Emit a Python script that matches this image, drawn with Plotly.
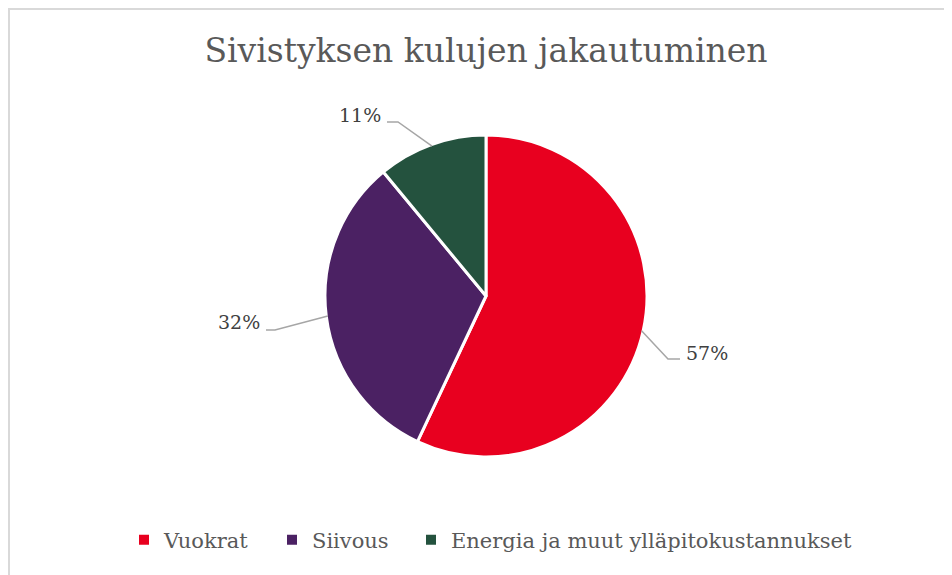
import math
import plotly.graph_objects as go

# ---- data ----
categories = ["Vuokrat", "Siivous", "Energia ja muut ylläpitokustannukset"]
shares = [57, 32, 11]
colors = ["#E8001F", "#4B2163", "#24523E"]
title_text = "Sivistyksen kulujen jakautuminen"

# ---- layout constants (pixels in the screenshot) ----
W, H = 952, 575
OFF = 8  # page body margin
CX, CY, R = 486, 296, 161
label_pos = [(684, 353, "left"), (262, 322, "right"), (383, 115, "right")]
elbow_pos = [(668, 359, 680), (275, 330, 266), (398, 122, 387)]
legend_marker_x = [144, 292, 431]
SERIF = "DejaVu Serif, Liberation Serif, Times New Roman, serif"


def px(x):
    return (x - OFF) / W


def py(y):
    return 1 - (y - OFF) / H


fig = go.Figure()
fig.add_trace(go.Pie(
    labels=categories,
    values=shares,
    sort=False,
    direction="clockwise",
    rotation=0,
    marker=dict(colors=colors, line=dict(color="white", width=3)),
    textinfo="none",
    hoverinfo="label+percent",
    showlegend=False,
    domain=dict(x=[px(CX - R), px(CX + R)], y=[py(CY + R), py(CY - R)]),
))

# legend entries (one legend per category so spacing can match the reference)
legend_layout = {}
for i, (name, col) in enumerate(zip(categories, colors)):
    key = "legend" if i == 0 else f"legend{i + 1}"
    fig.add_trace(go.Scatter(
        x=[None], y=[None], mode="markers", name=name,
        marker=dict(symbol="square", size=10, color=col),
        legend=key, showlegend=True, hoverinfo="skip",
    ))
    legend_layout[key] = dict(
        orientation="h", x=px(legend_marker_x[i] - 20), xanchor="left",
        y=py(540), yanchor="middle", bgcolor="rgba(0,0,0,0)",
        font=dict(family=SERIF, size=21, color="#595959"), itemwidth=30,
    )

total = sum(shares)
shapes = []
annotations = []
cum = 0
for i, v in enumerate(shares):
    mid = (cum + v / 2) / total * 2 * math.pi
    cum += v
    sx = CX + R * 0.99 * math.sin(mid)
    sy = CY - R * 0.99 * math.cos(mid)
    ex, ey, endx = elbow_pos[i]
    shapes.append(dict(type="path", xref="paper", yref="paper",
                       path=f"M {px(sx)},{py(sy)} L {px(ex)},{py(ey)} L {px(endx)},{py(ey)}",
                       line=dict(color="#A6A6A6", width=1.5)))
    lx, ly, anc = label_pos[i]
    pct = round(v / total * 100)
    annotations.append(dict(x=px(lx), y=py(ly), xref="paper", yref="paper",
                            text=f"{pct}%", showarrow=False, xanchor=anc, yanchor="middle",
                            font=dict(family=SERIF, size=19, color="#404040")))

# chart border
shapes.append(dict(type="rect", xref="paper", yref="paper",
                   x0=px(9), x1=px(W + 20), y0=py(H + 20), y1=py(9),
                   line=dict(color="#D9D9D9", width=2), fillcolor="rgba(0,0,0,0)"))

fig.update_layout(
    width=W, height=H,
    margin=dict(l=0, r=0, t=0, b=0),
    paper_bgcolor="white",
    plot_bgcolor="white",
    xaxis=dict(visible=False),
    yaxis=dict(visible=False),
    title=dict(text=title_text, x=px(486), xanchor="center", y=py(50), yanchor="middle",
               font=dict(family=SERIF, size=33, color="#595959")),
    shapes=shapes,
    annotations=annotations,
    **legend_layout,
)

fig.write_html("out.html")
